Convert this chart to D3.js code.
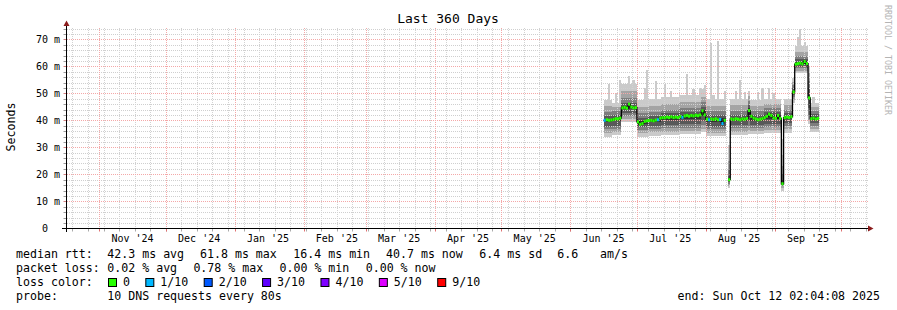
<!DOCTYPE html>
<html>
<head>
<meta charset="utf-8">
<script src="https://cdn.jsdelivr.net/npm/d3@7"></script>
<style>
body { margin: 0; background: #fff; }
svg text { font-family: "DejaVu Sans Mono", monospace; fill: #000; white-space: pre; }
</style>
</head>
<body>
<svg id="chart" width="897" height="310"></svg>
<script>
// ---- data ----
var endTime = new Date(Date.UTC(2025, 9, 12, 2, 4, 8));
var dayZero = new Date(Date.UTC(2025, 5, 1));   // day index 0 = Jun 1 2025
var firstSample = 15;                            // median[0] is Jun 16

// daily median rtt in ms, null = no data
var median = [
  40.0, 40.2, 40.0, 40.1, 40.3, 40.6, 40.5, 40.8,             // d15-22
  44.6, 44.8, 44.5, 46.0, 44.9, 44.6, 44.7,                   // d23-29
  39.4, 38.5, 38.8, 39.6, 39.8, 39.9, 40.0, 39.8, 40.1, 40.2, // d30-39
  40.8, 41.0, 40.9, 41.2, 41.0, 41.3, 41.0, 41.2, 41.0, 41.4, // d40-49
  41.1, 41.6, 41.8, 41.5, 41.8, 41.6, 41.9, 41.7, 42.0, 43.5, // d50-59
  42.0, 40.4, 40.2, 40.5, 40.3, 40.6, 40.2, 40.3, 38.8, 40.0, // d60-69
  null, 18.0, 40.5, 40.3, 40.6, 40.4, 40.2, 40.5, 40.4, 40.7, // d70-79
  43.6, 41.5, 40.8, 40.5, 40.2, 40.4, 40.6, 41.0, 41.5, 42.3, // d80-89
  41.8, 40.9, 40.7, 41.8, 40.7, 16.5, 41.0, 41.2, 41.0, 41.3, // d90-99
  50.5, 60.8, 61.0, 61.2, 60.9, 61.8, 61.0, 48.3,             // d100-107
  40.6, 40.8, 40.5, 40.7                                      // d108-111
];

// days that lost 1 of 10 pings
var lossDays = [15, 39, 50, 62, 67, 68];

// smoke: [first day, last day, 10 sorted pings in ms]
var smokeSegments = [
  [15, 18, 34.0, 35.3, 36.6, 37.7, 39.5, 40.6, 41.6, 43.0, 45.2, 47.5],
  [19, 22, 34.4, 35.6, 36.9, 38.0, 39.8, 41.0, 42.0, 43.4, 45.0, 46.5],
  [23, 29, 39.3, 40.4, 41.5, 42.6, 44.2, 45.3, 46.5, 48.3, 50.8, 53.5],
  [30, 34, 34.0, 35.2, 36.3, 37.4, 38.6, 39.8, 41.0, 42.6, 44.8, 47.5],
  [35, 40, 34.3, 35.5, 36.7, 37.8, 39.4, 40.6, 41.7, 43.2, 45.4, 48.0],
  [41, 48, 34.6, 35.8, 37.0, 38.2, 40.0, 41.5, 42.6, 44.0, 46.0, 48.5],
  [49, 58, 34.8, 36.0, 37.3, 38.6, 40.4, 42.0, 43.2, 44.7, 46.8, 49.2],
  [59, 60, 35.5, 36.8, 38.2, 39.6, 41.5, 43.8, 45.0, 46.6, 48.8, 51.5],
  [61, 69, 34.2, 35.4, 36.6, 37.7, 39.4, 40.8, 41.8, 43.3, 45.4, 48.0],
  [71, 71, 14.8, 15.6, 16.3, 17.0, 17.6, 18.5, 19.5, 21.5, 25.0, 31.0],
  [72, 79, 34.6, 35.8, 37.0, 38.1, 39.8, 41.0, 42.0, 43.5, 45.5, 48.0],
  [80, 80, 35.0, 36.4, 38.0, 39.6, 42.0, 44.5, 45.6, 47.0, 49.0, 51.0],
  [81, 86, 34.8, 36.0, 37.2, 38.3, 39.8, 41.0, 42.0, 43.4, 45.3, 47.5],
  [87, 94, 35.3, 36.5, 37.7, 38.8, 40.4, 42.0, 43.0, 44.4, 46.2, 48.0],
  [95, 95, 14.0, 14.8, 15.6, 16.2, 16.8, 18.0, 20.0, 23.0, 27.0, 33.0],
  [96, 99, 35.4, 36.6, 37.8, 38.9, 40.4, 41.6, 42.6, 44.0, 45.8, 47.8],
  [100, 100, 46.5, 47.5, 48.5, 49.4, 50.2, 51.0, 52.0, 53.0, 54.2, 55.5],
  [101, 106, 57.6, 58.4, 59.2, 59.9, 60.7, 61.6, 62.6, 63.8, 65.4, 67.5],
  [107, 107, 38.5, 40.0, 42.0, 44.5, 47.5, 49.5, 52.0, 54.5, 57.5, 60.0],
  [108, 111, 35.5, 36.6, 37.8, 38.9, 40.2, 41.2, 42.2, 43.4, 44.8, 46.5]
];

// slowest ping of the day where it sticks out as a spike: [day, ms]
var peaks = [
  [17, 53.5], [20, 50], [22, 55], [26, 56.5], [28, 55], [33, 52], [34, 58.5],
  [38, 54.5], [42, 53.5], [45, 51], [52, 57.3], [55, 51.5], [58, 52], [60, 53],
  [63, 68.5], [64, 49.5], [66, 69.5], [69, 51], [74, 51], [76, 55], [78, 50.5],
  [84, 50.5], [86, 52], [89, 52], [91, 50], [102, 71], [103, 74], [105, 69], [109, 48.5]
];

var monthLabels = ["Nov '24", "Dec '24", "Jan '25", "Feb '25", "Mar '25", "Apr '25",
                   "May '25", "Jun '25", "Jul '25", "Aug '25", "Sep '25"];
var yTicks = [0, 10, 20, 30, 40, 50, 60, 70];

var lossColors = ["#26ff00", "#00b8ff", "#0059ff", "#5e00ff", "#7e00ff", "#dd00ff", "#ff0000"];
var lossLabels = ["0", "1/10", "2/10", "3/10", "4/10", "5/10", "9/10"];

var smokeGreys = ["#cacaca", "#a4a4a4", "#7e7e7e", "#585858", "#323232",
                  "#585858", "#7e7e7e", "#a4a4a4", "#cacaca"];

// ---- scales ----
var DAY = 864e5;
var startTime = new Date(endTime - 360 * DAY);
var x = d3.scaleUtc().domain([startTime, endTime]).range([66, 866]);
var y = d3.scaleLinear().domain([0, 200 / 2.7]).range([228.3, 28.3]);
var px = function (v) { return Math.round(v) + 0.5; };

var svg = d3.select("#chart");

// ---- samples ----
var samples = median.map(function (m, i) {
  var d = firstSample + i;
  var seg = smokeSegments.find(function (s) { return d >= s[0] && d <= s[1]; });
  var pings = seg ? seg.slice(2) : null;
  var pk = peaks.find(function (p) { return p[0] === d; });
  if (pings && pk) pings[9] = pk[1];
  return {
    day: d,
    t0: new Date(+dayZero + d * DAY),
    t1: new Date(+dayZero + (d + 1) * DAY),
    m: m,
    pings: m === null ? null : pings,
    loss: lossDays.indexOf(d) >= 0 ? 1 : 0
  };
});

// ---- smoke ----
var smoke = svg.append("g").attr("shape-rendering", "crispEdges");
samples.filter(function (s) { return s.pings; }).forEach(function (s) {
  smoke.selectAll(null)
    .data(d3.range(9))
    .enter().append("rect")
    .attr("x", x(s.t0))
    .attr("width", x(s.t1) - x(s.t0))
    .attr("y", function (k) { return y(s.pings[k + 1]); })
    .attr("height", function (k) { return y(s.pings[k]) - y(s.pings[k + 1]); })
    .attr("fill", function (k) { return smokeGreys[k]; });
});

// ---- grid ----
var grid = svg.append("g").attr("stroke-dasharray", "1,1");
var weeks = d3.utcSunday.range(startTime, endTime);
var months = d3.utcMonth.range(startTime, endTime);

grid.selectAll(".hmin").data(d3.range(2, 75, 2)).enter().append("line")
  .attr("x1", 67).attr("x2", 868)
  .attr("y1", function (v) { return px(y(v)); }).attr("y2", function (v) { return px(y(v)); })
  .attr("stroke", "#cfcfcf");
grid.selectAll(".vmin").data(weeks).enter().append("line")
  .attr("x1", function (t) { return px(x(t)); }).attr("x2", function (t) { return px(x(t)); })
  .attr("y1", 28).attr("y2", 228)
  .attr("stroke", "#d2d2d2");
grid.selectAll(".hmaj").data(yTicks.slice(1)).enter().append("line")
  .attr("x1", 67).attr("x2", 868)
  .attr("y1", function (v) { return px(y(v)); }).attr("y2", function (v) { return px(y(v)); })
  .attr("stroke", "#f4a8a8");
grid.selectAll(".vmaj").data(months).enter().append("line")
  .attr("x1", function (t) { return px(x(t)); }).attr("x2", function (t) { return px(x(t)); })
  .attr("y1", 28).attr("y2", 228)
  .attr("stroke", "#f4a8a8");

// ---- median line ----
var pts = [];
samples.forEach(function (s) {
  pts.push({ t: s.t0, v: s.m });
  pts.push({ t: s.t1, v: s.m });
});
svg.append("path")
  .datum(pts)
  .attr("fill", "none")
  .attr("stroke", "#000")
  .attr("stroke-width", 1.3)
  .attr("d", d3.line()
    .defined(function (p) { return p.v !== null; })
    .x(function (p) { return x(p.t); })
    .y(function (p) { return y(p.v); }));

svg.append("g").selectAll("rect")
  .data(samples.filter(function (s) { return s.m !== null; }))
  .enter().append("rect")
  .attr("x", function (s) { return x(s.t0); })
  .attr("width", function (s) { return x(s.t1) - x(s.t0); })
  .attr("y", function (s) { return y(s.m) - 1.5; })
  .attr("height", 3)
  .attr("fill", function (s) { return lossColors[s.loss]; });

// ---- axes ----
var axes = svg.append("g");
axes.selectAll(".yt").data(d3.range(0, 75, 2)).enter().append("line")
  .attr("x1", 63.5).attr("x2", 66)
  .attr("y1", function (v) { return px(y(v)); }).attr("y2", function (v) { return px(y(v)); })
  .attr("stroke", function (v) { return v % 10 === 0 ? "#d08080" : "#999"; });
axes.selectAll(".xtw").data(weeks).enter().append("line")
  .attr("x1", function (t) { return px(x(t)); }).attr("x2", function (t) { return px(x(t)); })
  .attr("y1", 229).attr("y2", 231.5).attr("stroke", "#aaa");
axes.selectAll(".xtm").data(months).enter().append("line")
  .attr("x1", function (t) { return px(x(t)); }).attr("x2", function (t) { return px(x(t)); })
  .attr("y1", 229).attr("y2", 231.5).attr("stroke", "#e07070");

axes.append("line").attr("x1", 62).attr("x2", 869).attr("y1", 228.5).attr("y2", 228.5).attr("stroke", "#000");
axes.append("line").attr("x1", 66.5).attr("x2", 66.5).attr("y1", 232).attr("y2", 25).attr("stroke", "#000");
axes.append("path").attr("d", "M868,225.5L873.5,228.5L868,231.5Z").attr("fill", "#8b1c1c");
axes.append("path").attr("d", "M63.5,26L66.5,20.5L69.5,26Z").attr("fill", "#8b1c1c");

axes.selectAll(".yl").data(yTicks).enter().append("text")
  .attr("x", 60).attr("y", function (v) { return y(v); }).attr("dy", "0.36em")
  .attr("text-anchor", "end").attr("font-size", 10)
  .text(function (v) { return v === 0 ? "0  " : v + " m"; });

axes.selectAll(".xl").data(monthLabels).enter().append("text")
  .attr("x", function (l, i) { return x(new Date(+months[i] + 15 * DAY)); })
  .attr("y", 242).attr("text-anchor", "middle").attr("font-size", 10)
  .text(function (l) { return l; });

// ---- titles ----
svg.append("text").attr("x", 448).attr("y", 23).attr("text-anchor", "middle")
  .attr("font-size", 13).text("Last 360 Days");
svg.append("text").attr("transform", "translate(15,127) rotate(-90)")
  .attr("text-anchor", "middle").attr("font-size", 11.6).text("Seconds");
svg.append("text").attr("transform", "translate(885,5) rotate(90)")
  .attr("font-size", 8.3).style("fill", "#b4b4b4").text("RRDTOOL / TOBI OETIKER");

// ---- legend ----
var legendRows = [
  [[16, "median rtt:"], [107.3, "42.3 ms avg"], [200, "61.8 ms max"], [293.3, "16.4 ms min"],
   [386, "40.7 ms now"], [479.3, "6.4 ms sd"], [557.3, "6.6"], [600, "am/s"]],
  [[16, "packet loss:"], [107.3, "0.02 % avg"], [193.4, "0.78 % max"], [279.5, "0.00 % min"],
   [365.7, "0.00 % now"]],
  [[16, "loss color:"]],
  [[16, "probe:"], [107.3, "10 DNS requests every 80s"]]
];
var legend = svg.append("g").attr("font-size", 11.6);
legendRows.forEach(function (row, r) {
  legend.selectAll(null).data(row).enter().append("text")
    .attr("x", function (c) { return c[0]; })
    .attr("y", 257.5 + r * 14)
    .text(function (c) { return c[1]; });
});
var bx = 108;
lossColors.forEach(function (c, i) {
  legend.append("rect").attr("x", bx + 0.5).attr("y", 278.5).attr("width", 8).attr("height", 8)
    .attr("fill", c).attr("stroke", "#000");
  legend.append("text").attr("x", bx + 15).attr("y", 285.5).text(lossLabels[i]);
  bx += 15 + lossLabels[i].length * 7.02 + 15.3;
});
legend.append("text").attr("x", 880).attr("y", 299.5).attr("text-anchor", "end")
  .text("end: Sun Oct 12 02:04:08 2025");
</script>
</body>
</html>
